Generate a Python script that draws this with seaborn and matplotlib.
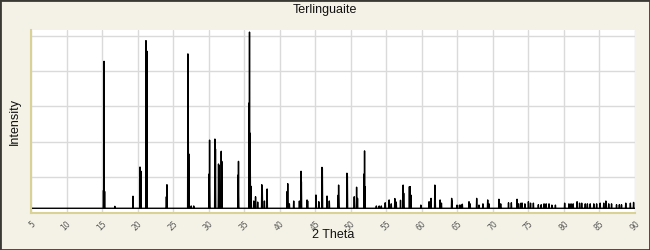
import matplotlib
matplotlib.use("Agg")
import matplotlib.pyplot as plt
from matplotlib.ticker import MultipleLocator, NullFormatter
from matplotlib.patches import Rectangle
import seaborn as sns
import pandas as pd

# ---- data ----
title = "Terlinguaite"
x_label = "2 Theta"
y_label = "Intensity"
baseline = 2.5
peak_pos = [15.20, 15.28, 15.36, 16.80, 19.35, 20.34, 20.48, 21.18, 21.32, 24.05,
            24.13, 27.08, 27.13, 27.20, 27.55, 27.90, 30.08, 30.13, 30.88, 30.96,
            31.39, 31.45, 31.77, 31.85, 34.15, 34.20, 35.70, 35.75, 35.80, 35.86,
            35.93, 36.35, 36.60, 36.90, 37.48, 37.55, 37.85, 38.23, 41.05, 41.13,
            41.36, 41.97, 42.77, 43.00, 43.05, 43.85, 43.93, 45.10, 45.50, 45.95,
            46.00, 46.66, 46.98, 48.25, 48.29, 49.46, 49.52, 50.49, 50.82, 50.95,
            51.88, 51.94, 52.00, 53.60, 54.00, 54.30, 54.85, 55.40, 55.70, 56.20,
            56.40, 57.00, 57.37, 57.45, 58.25, 58.36, 58.45, 59.86, 61.02, 61.30,
            61.83, 61.88, 62.57, 62.76, 64.20, 64.25, 64.96, 65.30, 65.50, 65.70,
            66.64, 66.80, 67.72, 68.04, 68.60, 69.27, 69.45, 70.85, 71.10, 72.20,
            72.60, 73.40, 73.60, 73.90, 74.10, 74.50, 75.00, 75.30, 75.70, 76.40,
            76.80, 77.20, 77.50, 77.90, 78.30, 78.80, 80.10, 80.70, 81.00, 81.30,
            81.85, 82.20, 82.50, 83.00, 83.30, 83.70, 84.20, 84.60, 85.10, 85.60,
            85.90, 86.30, 86.70, 87.40, 87.80, 88.10, 88.70, 89.35, 89.80]
peak_int = [12.6, 85.5, 12.0, 3.6, 9.3, 25.8, 23.4, 97.2, 91.2, 9.0,
            15.8, 89.7, 55.0, 33.2, 3.8, 3.8, 21.9, 41.0, 41.6, 36.0,
            27.5, 26.5, 34.7, 29.0, 21.3, 29.0, 62.0, 102.0, 45.0, 25.0,
            15.0, 6.6, 9.0, 6.0, 15.8, 13.0, 6.6, 13.4, 12.0, 16.4,
            5.0, 6.6, 6.6, 23.4, 17.5, 7.2, 6.6, 10.0, 6.2, 25.6,
            25.0, 9.4, 6.6, 10.0, 15.6, 22.3, 20.7, 9.0, 14.4, 8.1,
            21.9, 34.9, 14.7, 3.8, 3.8, 3.8, 5.6, 7.2, 5.0, 8.0,
            6.0, 7.0, 15.6, 11.0, 14.7, 14.7, 10.0, 4.3, 6.2, 8.1,
            15.6, 10.0, 7.2, 5.4, 8.1, 6.5, 4.3, 4.3, 4.3, 4.8,
            6.2, 5.0, 8.1, 4.3, 5.0, 7.2, 5.0, 7.6, 5.0, 5.6,
            5.6, 7.6, 5.0, 5.3, 5.5, 5.0, 6.2, 5.4, 5.4, 4.5,
            4.5, 5.0, 5.0, 5.0, 4.3, 4.3, 5.4, 5.0, 5.0, 5.0,
            6.2, 5.4, 5.4, 5.0, 5.0, 5.0, 5.0, 5.0, 5.4, 5.4,
            6.6, 5.0, 5.0, 4.5, 4.5, 4.5, 5.4, 5.4, 5.8]
x_range = [5, 90]

# ---- build stick profile from peak list ----
half_w = 0.04
xs, ys = [x_range[0]], [baseline]
for p, h in zip(peak_pos, peak_int):
    xs += [p - half_w, p, p + half_w]
    ys += [baseline, h, baseline]
xs.append(x_range[1]); ys.append(baseline)
df = pd.DataFrame({"two_theta": xs, "intensity": ys})

# ---- style ----
sns.set_style("white")
plt.rcParams["font.family"] = ["Liberation Sans", "DejaVu Sans"]
bg = "#F4F2E6"
tan = "#D9D196"
grid_c = "#DADADA"

fig = plt.figure(figsize=(6.5, 2.5), dpi=100, facecolor=bg)
ax = fig.add_axes([31 / 650, (250 - 212.7) / 250, (635 - 31) / 650, (212.7 - 30) / 250])
ax.set_facecolor("white")

sns.lineplot(data=df, x="two_theta", y="intensity", sort=False, estimator=None,
             color="black", linewidth=1.0, ax=ax)

ax.set_xlim(*x_range)
ax.set_ylim(0, 103.2)

ax.xaxis.set_major_locator(MultipleLocator(5))
ax.xaxis.set_minor_locator(MultipleLocator(5 / 6))
ax.yaxis.set_major_locator(MultipleLocator(20))
ax.yaxis.set_minor_locator(MultipleLocator(10))
ax.yaxis.set_major_formatter(NullFormatter())

ax.grid(True, which="major", color=grid_c, linewidth=1.0)
ax.set_axisbelow(True)

for s in ["top", "right"]:
    ax.spines[s].set_visible(False)
for s in ["left", "bottom"]:
    ax.spines[s].set_color(tan)
    ax.spines[s].set_linewidth(1.5)

ax.tick_params(axis="x", which="major", direction="out", length=3, width=1, color=tan,
               labelsize=5.5, labelcolor="#555555", pad=2)
ax.tick_params(axis="x", which="minor", direction="out", length=3, width=1, color=tan)
ax.tick_params(axis="y", which="major", direction="in", length=5, width=1, color=tan)
ax.tick_params(axis="y", which="minor", direction="in", length=3, width=1, color=tan)

for lab in ax.get_xticklabels():
    lab.set_rotation(45)
    lab.set_ha("right")
    lab.set_va("top")
    lab.set_rotation_mode("anchor")
    lab.set_fontfamily("DejaVu Sans")

ax.set_xlabel(x_label, fontsize=9, color="#111111")
ax.xaxis.set_label_coords(0.5, (212.7 - 235) / 182.7)
ax.xaxis.label.set_va("center")
ax.set_ylabel(y_label, fontsize=9, color="#111111")
ax.yaxis.set_label_coords((15 - 31) / 604, 0.5)
ax.yaxis.label.set_va("center")
fig.suptitle(title, x=0.5, y=1 - 10 / 250, va="center", fontsize=9, color="#111111")

fig.patches.append(Rectangle((0, 0), 1, 1, transform=fig.transFigure, fill=False,
                             edgecolor="#3A3934", linewidth=2.0, zorder=10))

fig.savefig("out.png", dpi=100, facecolor=bg)
